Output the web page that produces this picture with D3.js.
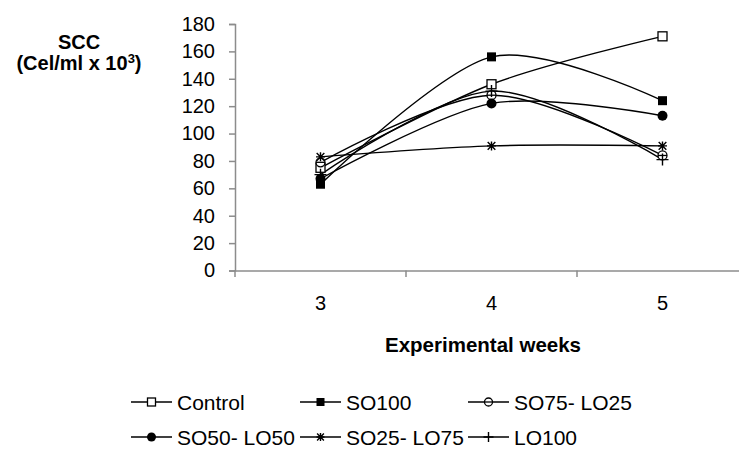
<!DOCTYPE html>
<html>
<head>
<meta charset="utf-8">
<script src="https://cdn.jsdelivr.net/npm/d3@7"></script>
<style>
  body { margin: 0; background: #fff; }
  svg { display: block; font-family: Arial, "Liberation Sans", sans-serif; }
</style>
</head>
<body>
<div id="chart"></div>
<script>
const weeks = ["3", "4", "5"];
const control = [75, 136, 171];
const so100 = [63, 156, 124];
const so75lo25 = [79, 128, 84];
const so50lo50 = [67, 122, 113];
const so25lo75 = [83, 91, 91];
const lo100 = [70, 131, 81];
const yTicks = [0, 20, 40, 60, 80, 100, 120, 140, 160, 180];

const series = [
    {name: "Control", values: control, marker: "openSquare"},
    {name: "SO100", values: so100, marker: "square"},
    {name: "SO75- LO25", values: so75lo25, marker: "openCircle"},
    {name: "SO50- LO50", values: so50lo50, marker: "circle"},
    {name: "SO25- LO75", values: so25lo75, marker: "star"},
    {name: "LO100", values: lo100, marker: "plus"}
];

const width = 739, height = 449;
const axisColor = "#8c8c8c";
const fontFam = "Arial, 'Liberation Sans', sans-serif";

const svg = d3.select("#chart").append("svg")
    .attr("width", width)
    .attr("height", height)
    .attr("viewBox", [0, 0, width, height]);

const x = d3.scaleBand(weeks, [235, 748]);
const y = d3.scaleLinear([0, 180], [270.5, 24]);

// y axis
const yAxis = svg.append("g")
    .attr("transform", "translate(235,0)")
    .call(d3.axisLeft(y).tickValues(yTicks).tickSize(6).tickPadding(14));
yAxis.select(".domain").attr("stroke", axisColor).attr("stroke-width", 1.5);
yAxis.selectAll(".tick line").attr("stroke", axisColor).attr("stroke-width", 1.5);
yAxis.selectAll("text").attr("font-size", 20).attr("fill", "#000").attr("font-family", fontFam);

// x axis
const xAxis = svg.append("g")
    .attr("transform", "translate(0,270.5)")
    .call(d3.axisBottom(x).tickSize(0).tickPadding(25));
xAxis.select(".domain").attr("stroke", axisColor).attr("stroke-width", 1.5);
xAxis.selectAll("text").attr("font-size", 20).attr("fill", "#000").attr("font-family", fontFam);
// category separator ticks
svg.append("g")
    .selectAll("line")
    .data(weeks)
    .join("line")
        .attr("x1", d => x(d))
        .attr("x2", d => x(d))
        .attr("y1", 270.5)
        .attr("y2", 277)
        .attr("stroke", axisColor)
        .attr("stroke-width", 1.5);

// titles
svg.append("text")
    .attr("x", 483).attr("y", 352)
    .attr("text-anchor", "middle")
    .attr("font-size", 20.5).attr("font-weight", "bold")
    .text("Experimental weeks");

svg.append("text")
    .attr("x", 79).attr("y", 49)
    .attr("text-anchor", "middle")
    .attr("font-size", 20).attr("font-weight", "bold")
    .text("SCC");
const yt = svg.append("text")
    .attr("x", 79).attr("y", 70)
    .attr("text-anchor", "middle")
    .attr("font-size", 20).attr("font-weight", "bold");
yt.append("tspan").text("(Cel/ml x 10");
yt.append("tspan").attr("font-size", 13).attr("dy", -7).text("3");
yt.append("tspan").attr("dy", 7).text(")");

// lines
const line = d3.line()
    .x((d, i) => x(weeks[i]) + x.bandwidth() / 2)
    .y(d => y(d))
    .curve(d3.curveCardinal.tension(0.1));

svg.append("g")
    .attr("fill", "none")
    .attr("stroke", "#000")
    .attr("stroke-width", 1.4)
    .selectAll("path")
    .data(series)
    .join("path")
        .attr("d", d => line(d.values));

function drawMarker(g, type, s) {
    if (type === "openSquare") {
        g.append("rect").attr("x", -s).attr("y", -s).attr("width", 2 * s).attr("height", 2 * s)
            .attr("fill", "#fff").attr("stroke", "#000").attr("stroke-width", 1.3);
    } else if (type === "square") {
        g.append("rect").attr("x", -s).attr("y", -s).attr("width", 2 * s).attr("height", 2 * s)
            .attr("fill", "#000");
    } else if (type === "openCircle") {
        g.append("circle").attr("r", s).attr("fill", "#fff").attr("stroke", "#000").attr("stroke-width", 1.3);
        g.append("line").attr("x1", -s).attr("x2", s).attr("stroke", "#000").attr("stroke-width", 1.3);
    } else if (type === "circle") {
        g.append("circle").attr("r", s + 0.5).attr("fill", "#000");
    } else if (type === "star") {
        const a = s * 0.85;
        g.append("path").attr("stroke", "#000").attr("stroke-width", 1.4).attr("fill", "none")
            .attr("d", `M${-a},${-a}L${a},${a}M${-a},${a}L${a},${-a}M0,${-s}L0,${s}M${-s},0L${s},0`);
    } else if (type === "plus") {
        g.append("path").attr("stroke", "#000").attr("stroke-width", 1.4)
            .attr("d", `M0,${-s}L0,${s}M${-s},0L${s},0`);
    }
}

// markers on points
series.forEach(sr => {
    svg.append("g")
        .selectAll("g")
        .data(sr.values)
        .join("g")
            .attr("transform", (d, i) => `translate(${x(weeks[i]) + x.bandwidth() / 2},${y(d)})`)
            .each(function() { drawMarker(d3.select(this), sr.marker, sr.marker === "plus" ? 6 : 4.5); });
});

// legend
const legX = [131, 300, 468];
const legY = [402, 437];
const legend = svg.append("g")
    .selectAll("g")
    .data(series)
    .join("g")
        .attr("transform", (d, i) => `translate(${legX[i % 3]},${legY[Math.floor(i / 3)]})`);
legend.append("line")
    .attr("x1", 0).attr("x2", 41)
    .attr("stroke", "#000").attr("stroke-width", 1.5);
legend.append("g")
    .attr("transform", "translate(20.5,0)")
    .each(function(d) { drawMarker(d3.select(this), d.marker, d.marker === "plus" ? 5 : 4); });
legend.append("text")
    .attr("x", 46).attr("y", 7.5)
    .attr("font-size", 21)
    .text(d => d.name);
</script>
</body>
</html>
